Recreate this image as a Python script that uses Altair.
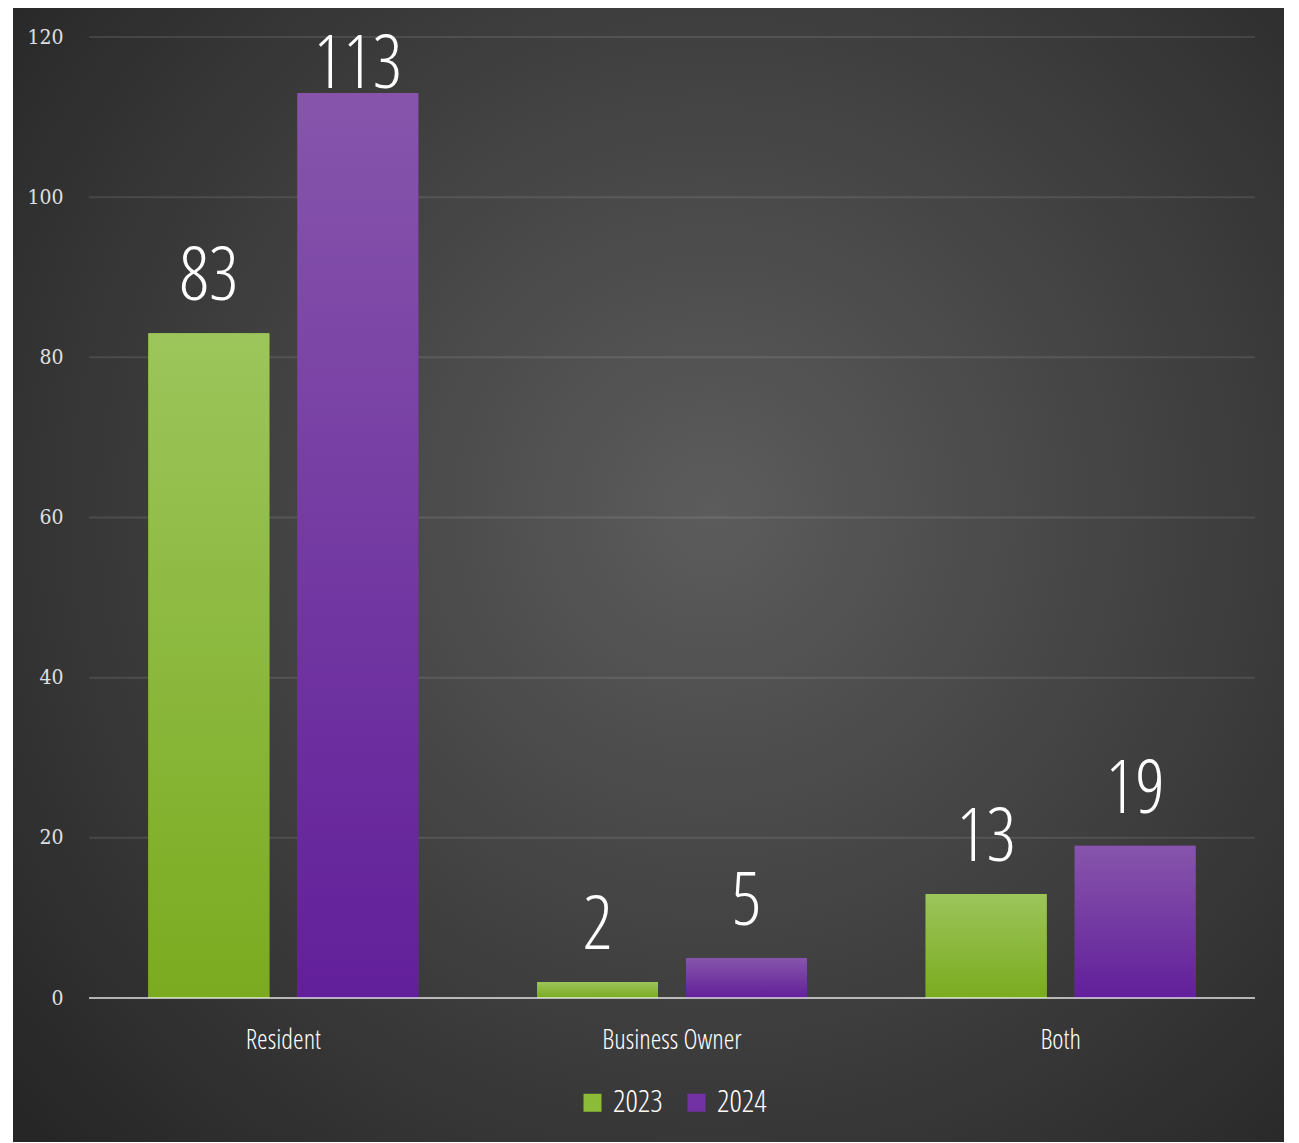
import altair as alt
import pandas as pd

categories = ["Resident", "Business Owner", "Both"]
years = ["2023", "2024"]
values_2023 = [83, 2, 13]
values_2024 = [113, 5, 19]
y_ticks = [0, 20, 40, 60, 80, 100, 120]

rows = []
for c, v in zip(categories, values_2023):
    rows.append({"category": c, "year": "2023", "value": v})
for c, v in zip(categories, values_2024):
    rows.append({"category": c, "year": "2024", "value": v})
df = pd.DataFrame(rows)
grid_df = pd.DataFrame({"tick": y_ticks})
one_df = pd.DataFrame({"k": [0]})

W, H = 1166, 961
COND = "Open Sans Condensed Light, Roboto Condensed, DejaVu Sans Condensed, sans-serif"

bg_gradient = {
    "gradient": "radial",
    "x1": 0.55, "y1": 0.45, "x2": 0.55, "y2": 0.45, "r1": 0, "r2": 0.72,
    "stops": [
        {"offset": 0, "color": "#5c5c5c"},
        {"offset": 1, "color": "#262626"},
    ],
}
green_grad = {
    "gradient": "linear", "x1": 0, "y1": 0, "x2": 0, "y2": 1,
    "stops": [{"offset": 0, "color": "#9cc55b"}, {"offset": 1, "color": "#7aab1f"}],
}
purple_grad = {
    "gradient": "linear", "x1": 0, "y1": 0, "x2": 0, "y2": 1,
    "stops": [{"offset": 0, "color": "#8655ab"}, {"offset": 1, "color": "#621f9a"}],
}

y_scale = alt.Scale(domain=[0, 120], nice=False)
y_axis = alt.Axis(values=y_ticks, domain=False, ticks=False, grid=False,
                  labelFont="DejaVu Serif Condensed", labelFontSize=21,
                  labelColor="#e0e0e0", labelPadding=26, zindex=2)
x_enc = alt.X(
    "category:N", sort=categories, title=None,
    scale=alt.Scale(paddingInner=0.3054, paddingOuter=0.1527),
    axis=alt.Axis(domain=False, ticks=False, labelAngle=0, labelFont=COND,
                  labelFontSize=27, labelColor="white", labelPadding=29, zindex=2),
)
xo_enc = alt.XOffset("year:N", scale=alt.Scale(domain=years, paddingInner=0.188, paddingOuter=0))
y_enc = alt.Y("value:Q", scale=y_scale, title=None, axis=y_axis)

background = alt.Chart(one_df).mark_rect(color=bg_gradient).encode(
    x=alt.value(-76), x2=alt.value(W + 29), y=alt.value(-29), y2=alt.value(H + 144)
)

grid = alt.Chart(grid_df).mark_rule(color="white", opacity=0.1, strokeWidth=2).encode(
    y=alt.Y("tick:Q", scale=y_scale, title=None, axis=y_axis)
)

base = alt.Chart(df).encode(x=x_enc, xOffset=xo_enc, y=y_enc)

bars = base.mark_bar().encode(
    color=alt.Color(
        "year:N",
        scale=alt.Scale(domain=years, range=["#8cbb37", "#7332a4"]),
        legend=alt.Legend(
            title=None, orient="none", legendX=488, legendY=1050,
            direction="horizontal", symbolType="square", symbolSize=324,
            symbolStrokeWidth=0, labelFont=COND, labelFontSize=31,
            labelColor="white", labelOffset=5, columnPadding=18,
        ),
    )
)

bars_2023 = base.transform_filter("datum.year == '2023'").mark_bar(color=green_grad)
bars_2024 = base.transform_filter("datum.year == '2024'").mark_bar(color=purple_grad)

labels = base.mark_text(
    font=COND, fontSize=74, color="white", baseline="alphabetic"
).encode(
    y=alt.Y("label_y:Q", scale=y_scale, title=None, axis=y_axis),
    text=alt.Text("value:Q"),
).transform_calculate(label_y="min(datum.value + 4.1, 113.6)")

zero_line = alt.Chart(one_df).mark_rule(color="white", opacity=0.6, strokeWidth=2).encode(
    y=alt.datum(0)
)

chart = alt.layer(
    background, grid, bars, bars_2023, bars_2024, zero_line, labels
).properties(
    width=W, height=H,
    padding={"left": 81, "top": 29, "right": 30, "bottom": 145},
    autosize=alt.AutoSizeParams(type="none"),
    background="white",
).configure_view(stroke=None)

chart.save("out.html", embed_options={"renderer": "svg", "actions": False})
